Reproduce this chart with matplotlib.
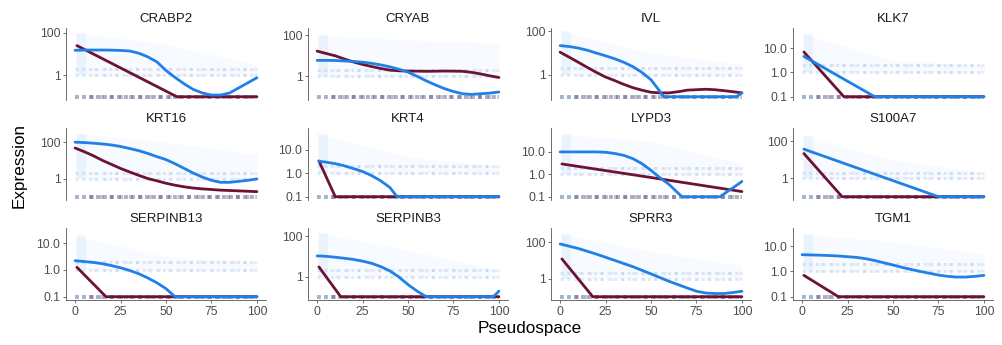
import matplotlib
matplotlib.use("Agg")
import matplotlib.pyplot as plt

plt.rcParams['font.family'] = ['Liberation Sans', 'DejaVu Sans']

# ---------------- data ----------------
genes = ["CRABP2", "CRYAB", "IVL", "KLK7",
         "KRT16", "KRT4", "LYPD3", "S100A7",
         "SERPINB13", "SERPINB3", "SPRR3", "TGM1"]

# log10 of the largest observed expression per gene (sets the y range)
ymax_log = [2.07, 2.2, 2.0, 1.7,
            2.6, 1.8, 1.92, 2.55,
            1.44, 2.24, 2.6, 1.59]

# break style per panel: "wide" -> 1, 100 ; "narrow" -> 0.1, 1.0, 10.0
break_style = ["wide", "wide", "wide", "narrow",
               "wide", "narrow", "narrow", "wide",
               "narrow", "wide", "wide", "narrow"]

X5 = [0, 5, 10, 15, 20, 25, 30, 35, 40, 45, 50, 55, 60, 65, 70, 75, 80, 85, 90, 95, 100]
X10 = [0, 10, 20, 30, 40, 50, 60, 70, 80, 90, 100]

# fitted trend, condition 1 (blue)
crabp2_blue = (X5, [15, 15.5, 15.5, 15.5, 15.3, 14.8, 14, 11, 7.4, 4.3, 1.7, 0.8, 0.4, 0.22,
                    0.15, 0.12, 0.12, 0.15, 0.26, 0.45, 0.78])
cryab_blue = (X5, [6, 6, 5.9, 5.6, 5.3, 4.9, 4.3, 3.6, 2.9, 2.2, 1.6, 1.0, 0.6, 0.38,
                   0.25, 0.18, 0.14, 0.13, 0.14, 0.15, 0.17])
ivl_blue = ([0, 5, 10, 15, 20, 25, 30, 35, 40, 45, 50, 54, 57, 97, 100],
            [22, 20, 17, 13.5, 10, 7.5, 5.5, 3.8, 2.4, 1.3, 0.6, 0.22, 0.1, 0.1, 0.15])
klk7_blue = ([1, 40, 100], [4.6, 0.1, 0.1])
krt16_blue = (X5, [100, 95, 88, 80, 70, 58, 45, 34, 24, 16, 11, 6.5, 3.6, 2.0,
                   1.2, 0.8, 0.62, 0.62, 0.7, 0.8, 0.95])
krt4_blue = ([1, 5, 10, 15, 20, 25, 30, 35, 40, 44, 100],
             [3.3, 3.0, 2.6, 2.1, 1.6, 1.2, 0.8, 0.48, 0.25, 0.1, 0.1])
lypd3_blue = ([0, 10, 20, 25, 30, 35, 40, 45, 50, 55, 60, 64, 67, 88, 92, 96, 100],
              [10, 10, 10, 9.6, 8.5, 7, 5, 3, 1.5, 0.7, 0.35, 0.17, 0.1, 0.1, 0.17, 0.28, 0.48])
s100a7_blue = ([1, 75, 100], [38, 0.1, 0.1])
serpinb13_blue = ([0, 5, 10, 15, 20, 25, 30, 35, 40, 45, 50, 55, 100],
                  [2.2, 2.05, 1.9, 1.7, 1.45, 1.2, 0.95, 0.72, 0.5, 0.33, 0.2, 0.1, 0.1])
serpinb3_blue = ([0, 5, 10, 15, 20, 25, 30, 35, 40, 45, 50, 55, 60, 97, 100],
                 [10.5, 10, 9, 8, 7, 5.8, 4.5, 3.1, 1.9, 0.95, 0.4, 0.19, 0.1, 0.1, 0.19])
sprr3_blue = ([0, 10, 20, 30, 40, 50, 60, 70, 75, 80, 85, 90, 95, 100],
              [80, 45, 22, 10, 4.5, 1.8, 0.7, 0.3, 0.2, 0.16, 0.15, 0.15, 0.17, 0.2])
tgm1_blue = ([0, 10, 20, 30, 35, 40, 45, 50, 55, 60, 65, 70, 75, 80, 85, 90, 95, 100],
             [4.6, 4.4, 4.1, 3.6, 3.2, 2.7, 2.2, 1.8, 1.45, 1.2, 1.0, 0.85, 0.72, 0.64,
              0.6, 0.6, 0.64, 0.7])

# fitted trend, condition 2 (dark red)
crabp2_red = ([1, 56, 100], [25, 0.1, 0.1])
cryab_red = (X5, [17, 13, 10, 7, 5, 3.8, 3, 2.4, 2, 1.85, 1.8, 1.78, 1.75, 1.77,
                  1.8, 1.78, 1.75, 1.55, 1.3, 1.05, 0.87])
ivl_red = (X5, [11, 6.5, 3.8, 2.2, 1.3, 0.8, 0.55, 0.37, 0.26, 0.2, 0.16, 0.15, 0.15, 0.17,
                0.2, 0.21, 0.22, 0.21, 0.19, 0.17, 0.15])
klk7_red = ([1, 23, 100], [7, 0.1, 0.1])
krt16_red = (X5, [48, 30, 18, 10, 6, 3.6, 2.3, 1.5, 1.0, 0.75, 0.55, 0.43, 0.35, 0.3,
                  0.27, 0.25, 0.23, 0.22, 0.21, 0.2, 0.19])
krt4_red = ([1, 10, 100], [3.4, 0.1, 0.1])
lypd3_red = ([1, 50, 100], [2.9, 0.72, 0.17])
s100a7_red = ([1, 22, 100], [22, 0.1, 0.1])
serpinb13_red = ([1, 17, 100], [1.25, 0.1, 0.1])
serpinb3_red = ([1, 13, 100], [3, 0.1, 0.1])
sprr3_red = ([1, 18, 100], [12, 0.1, 0.1])
tgm1_red = ([1, 20, 100], [0.7, 0.1, 0.1])

blue_fits = [crabp2_blue, cryab_blue, ivl_blue, klk7_blue, krt16_blue, krt4_blue,
             lypd3_blue, s100a7_blue, serpinb13_blue, serpinb3_blue, sprr3_blue, tgm1_blue]
red_fits = [crabp2_red, cryab_red, ivl_red, klk7_red, krt16_red, krt4_red,
            lypd3_red, s100a7_red, serpinb13_red, serpinb3_red, sprr3_red, tgm1_red]

# faint cloud of individual cells: upper envelope at pseudospace 0, 50, 100
cloud_x = [0, 50, 100]
cloud_top = [[100, 30, 3], [100, 60, 40], [100, 10, 3], [40, 3, 2],
             [300, 100, 20], [50, 5, 2], [60, 30, 3], [200, 10, 2],
             [20, 3, 2], [150, 20, 2], [300, 30, 5], [30, 15, 5]]
# discrete expression levels where cells pile up (zeros are shown at 0.1)
band_levels = [1, 2]
zero_level = 0.1

# ---------------- layout ----------------
W, H = 1002, 345
fig = plt.figure(figsize=(W / 100, H / 100), dpi=100)
col_left = [66, 308, 551, 793]
col_w = 200
row_top = [28, 128, 228]
row_h = 72

BLUE = "#1F80E8"
RED = "#6D1233"

for i, g in enumerate(genes):
    r, c = divmod(i, 4)
    ax = fig.add_axes([col_left[c] / W, 1 - (row_top[r] + row_h) / H, col_w / W, row_h / H])
    M = ymax_log[i]
    R = M + 1
    lo, hi = 10 ** (-1 - 0.05 * R), 10 ** (M + 0.05 * R)
    ax.set_yscale("log")
    ax.set_xlim(-5, 105)
    ax.set_ylim(lo, hi)

    # cells: faint cloud, dense column near start, discrete bands
    ax.fill_between(cloud_x, 1, cloud_top[i], color=BLUE, alpha=0.035, lw=0, zorder=1)
    ax.fill_between([1, 6], 1, cloud_top[i][0], color=BLUE, alpha=0.06, lw=0, zorder=1)
    for lv in band_levels:
        ax.hlines(lv, 0, 100, color=BLUE, alpha=0.14, lw=2.2, linestyles=(0, (1, 1.2)), zorder=1)
        ax.hlines(lv, 10, 100, color=RED, alpha=0.07, lw=2.2, linestyles=(0, (1, 2.5)), zorder=1)
    ax.hlines(zero_level, 0, 100, color="#2F5A95", alpha=0.45, lw=2.8,
              linestyles=(0, (1, 0.8)), zorder=1)
    ax.hlines(zero_level, 8, 100, color=RED, alpha=0.3, lw=2.8,
              linestyles=(0, (1, 1.5)), zorder=1)

    bx, by = blue_fits[i]
    rx, ry = red_fits[i]
    ax.plot(rx, ry, color=RED, lw=2.0, zorder=3, solid_capstyle="round", solid_joinstyle="round")
    ax.plot(bx, by, color=BLUE, lw=2.0, zorder=4, solid_capstyle="round", solid_joinstyle="round")

    if break_style[i] == "wide":
        ax.set_yticks([1, 100])
        ax.set_yticklabels(["1", "100"])
    else:
        ax.set_yticks([0.1, 1, 10])
        ax.set_yticklabels(["0.1", "1.0", "10.0"])
    ax.yaxis.set_minor_locator(matplotlib.ticker.NullLocator())

    for s in ["top", "right"]:
        ax.spines[s].set_visible(False)
    ax.spines["left"].set_color("#555555")
    ax.spines["left"].set_linewidth(0.6)
    if r == 2:
        ax.spines["bottom"].set_color("#555555")
        ax.spines["bottom"].set_linewidth(0.6)
        ax.set_xticks([0, 25, 50, 75, 100])
    else:
        ax.spines["bottom"].set_visible(False)
        ax.set_xticks([])
    ax.tick_params(axis="both", length=2.5, width=0.6, color="#555555",
                   labelcolor="#4D4D4D", labelsize=8.7, pad=1.5)
    ax.set_title(g, fontsize=9.5, color="#1A1A1A", pad=4)

fig.text(530 / W, 1 - 329 / H, "Pseudospace", ha="center", va="center", fontsize=12.3)
fig.text(19 / W, 1 - 165 / H, "Expression", ha="center", va="center", rotation=90, fontsize=12.3)

fig.savefig("out.png", dpi=100)
